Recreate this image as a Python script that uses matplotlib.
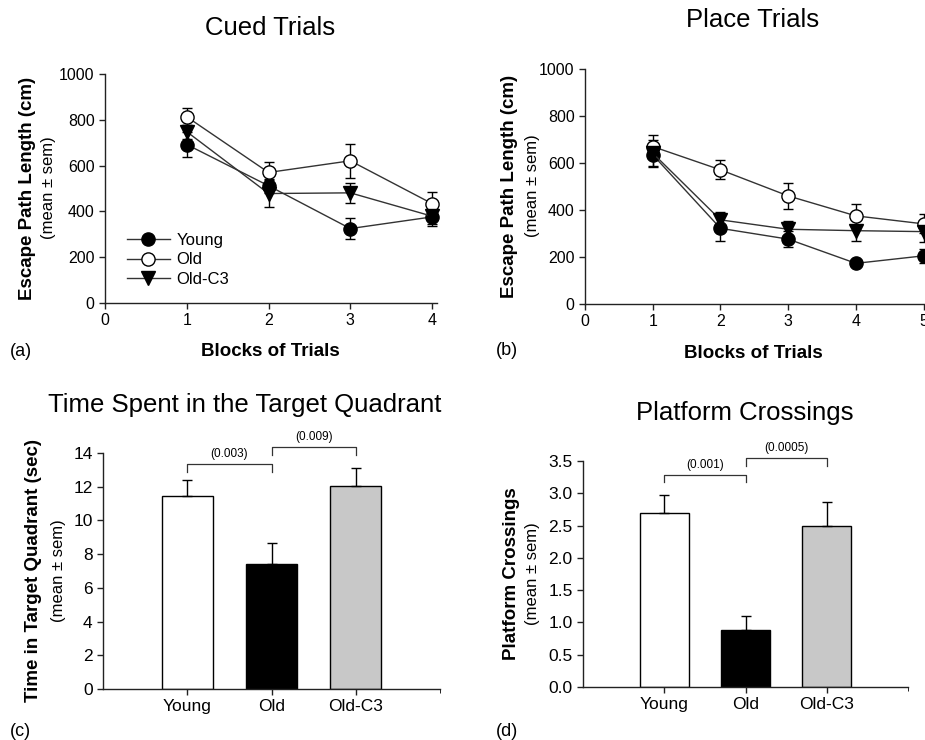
import matplotlib
matplotlib.use('Agg')
import matplotlib.pyplot as plt
from matplotlib.lines import Line2D
import numpy as np

plt.rcParams['font.family'] = ['Liberation Sans', 'DejaVu Sans']

groups = ['Young', 'Old', 'Old-C3']

# (a) cued trials
cued_blocks = [1, 2, 3, 4]
cued_young = [692, 512, 325, 376]
cued_young_sem = [55, 30, 44, 40]
cued_old = [813, 570, 621, 434]
cued_old_sem = [37, 47, 75, 51]
cued_oldc3 = [748, 478, 481, 379]
cued_oldc3_sem = [30, 58, 45, 35]

# (b) place trials
place_blocks = [1, 2, 3, 4, 5]
place_young = [635, 322, 276, 173, 205]
place_young_sem = [50, 52, 35, 12, 30]
place_old = [670, 571, 460, 375, 341]
place_old_sem = [50, 40, 55, 50, 40]
place_oldc3 = [642, 358, 318, 312, 308]
place_oldc3_sem = [55, 35, 35, 45, 45]

# (c) time in target quadrant
quad_mean = [11.47, 7.43, 12.06]
quad_sem = [0.95, 1.22, 1.03]
quad_p = ['(0.003)', '(0.009)']

# (d) platform crossings
cross_mean = [2.70, 0.885, 2.49]
cross_sem = [0.28, 0.215, 0.37]
cross_p = ['(0.001)', '(0.0005)']

bar_colors = ['white', 'black', '#c8c8c8']

W, H = 925, 740
fig = plt.figure(figsize=(9.25, 7.4), dpi=100)


def axes_px(l, t, r, b):
    return fig.add_axes([l / W, 1 - b / H, (r - l) / W, (b - t) / H])


def ftext(x, y, s, **kw):
    fig.text(x / W, 1 - y / H, s, **kw)


def style(ax, fs):
    ax.spines['top'].set_visible(False)
    ax.spines['right'].set_visible(False)
    for sp in ['left', 'bottom']:
        ax.spines[sp].set_linewidth(1.0)
        ax.spines[sp].set_color('#222222')
    ax.tick_params(direction='out', length=4, width=1, labelsize=fs, color='#222222')


def line_panel(ax, blocks, series):
    for vals, sem, marker, mfc, lab in series:
        ax.errorbar(blocks, vals, yerr=sem, fmt='-', marker=marker, color='#333333',
                    mfc=mfc, mec='black', ms=9.5, lw=1, ecolor='black',
                    elinewidth=1, capsize=3.5, capthick=1, clip_on=False)
    ax.set_ylim(0, 1000)
    ax.set_yticks([0, 200, 400, 600, 800, 1000])
    style(ax, 11.5)


# (a)
ax_a = axes_px(105, 74, 437, 303)
line_panel(ax_a, cued_blocks, [
    (cued_young, cued_young_sem, 'o', 'black', 'Young'),
    (cued_old, cued_old_sem, 'o', 'white', 'Old'),
    (cued_oldc3, cued_oldc3_sem, 'v', 'black', 'Old-C3'),
])
ax_a.set_xlim(0, 4.06)
ax_a.set_xticks([0, 1, 2, 3, 4])
handles = [Line2D([], [], color='#333333', lw=1, marker=m, mfc=f, mec='black', ms=9.5)
           for m, f in [('o', 'black'), ('o', 'white'), ('v', 'black')]]
ax_a.legend(handles, groups, loc='upper left', bbox_to_anchor=(0.02, 0.37), frameon=False,
            fontsize=12, handlelength=2.6, labelspacing=0.25, handletextpad=0.4)

# (b)
ax_b = axes_px(585, 69, 925, 304)
line_panel(ax_b, place_blocks, [
    (place_young, place_young_sem, 'o', 'black', 'Young'),
    (place_old, place_old_sem, 'o', 'white', 'Old'),
    (place_oldc3, place_oldc3_sem, 'v', 'black', 'Old-C3'),
])
ax_b.set_xlim(0, 5.02)
ax_b.set_xticks([0, 1, 2, 3, 4, 5])


def bar_panel(ax, means, sems, pvals, ylim, yticks, fmt, br):
    x = np.arange(1, 4)
    ax.bar(x, means, width=0.6, color=bar_colors, edgecolor='black', linewidth=1, zorder=2)
    ax.errorbar(x, means, yerr=[np.zeros(3), sems], fmt='none', ecolor='black',
                elinewidth=1, capsize=3.5, capthick=1, zorder=3)
    ax.set_xlim(0, 4)
    ax.set_ylim(*ylim)
    ax.set_yticks(yticks)
    ax.set_yticklabels([fmt % v for v in yticks])
    ax.set_xticks(x)
    ax.set_xticklabels(groups)
    ax.set_xticks([4], minor=True)
    ax.tick_params(axis='x', which='minor', length=3, direction='out')
    style(ax, 12.5)
    for (x0, x1, ylo, yhi, ylab), p in zip(br, pvals):
        ax.plot([x0, x0, x1, x1], [ylo, yhi, yhi, ylo], color='#333333', lw=0.9, clip_on=False)
        ax.text((x0 + x1) / 2, ylab, p, ha='center', va='center', fontsize=8.5)


# (c)
ax_c = axes_px(103, 453, 440, 689)
bar_panel(ax_c, quad_mean, quad_sem, quad_p, (0, 14), [0, 2, 4, 6, 8, 10, 12, 14], '%d',
          [(1, 2, 12.9, 13.37, 13.96), (2, 3, 13.9, 14.36, 14.93)])

# (d)
ax_d = axes_px(583, 461, 908, 687)
bar_panel(ax_d, cross_mean, cross_sem, cross_p, (0, 3.5),
          [0, 0.5, 1.0, 1.5, 2.0, 2.5, 3.0, 3.5], '%.1f',
          [(1, 2, 3.18, 3.29, 3.44), (2, 3, 3.43, 3.55, 3.70)])

# titles
ftext(270, 28, 'Cued Trials', ha='center', va='center', fontsize=18.5)
ftext(753, 20, 'Place Trials', ha='center', va='center', fontsize=18.5)
ftext(245, 405, 'Time Spent in the Target Quadrant', ha='center', va='center', fontsize=18.5)
ftext(745, 413, 'Platform Crossings', ha='center', va='center', fontsize=18.5)

# axis labels
ftext(270, 352, 'Blocks of Trials', ha='center', va='center', fontsize=13.5, fontweight='bold')
ftext(753, 353, 'Blocks of Trials', ha='center', va='center', fontsize=13.5, fontweight='bold')
ftext(28, 188, 'Escape Path Length (cm)', ha='center', va='center', rotation=90,
      fontsize=13.5, fontweight='bold')
ftext(48, 188, '(mean \u00b1 sem)', ha='center', va='center', rotation=90, fontsize=12)
ftext(510, 186, 'Escape Path Length (cm)', ha='center', va='center', rotation=90,
      fontsize=13.5, fontweight='bold')
ftext(532, 186, '(mean \u00b1 sem)', ha='center', va='center', rotation=90, fontsize=12)
ftext(34, 571, 'Time in Target Quadrant (sec)', ha='center', va='center', rotation=90,
      fontsize=13.5, fontweight='bold')
ftext(58, 571, '(mean \u00b1 sem)', ha='center', va='center', rotation=90, fontsize=12)
ftext(511, 574, 'Platform Crossings', ha='center', va='center', rotation=90,
      fontsize=13.5, fontweight='bold')
ftext(533, 574, '(mean \u00b1 sem)', ha='center', va='center', rotation=90, fontsize=12)

# panel letters
ftext(10, 352, '(a)', ha='left', va='center', fontsize=13)
ftext(496, 350, '(b)', ha='left', va='center', fontsize=13)
ftext(10, 731, '(c)', ha='left', va='center', fontsize=13)
ftext(496, 731, '(d)', ha='left', va='center', fontsize=13)

fig.savefig('out.png', dpi=100)
